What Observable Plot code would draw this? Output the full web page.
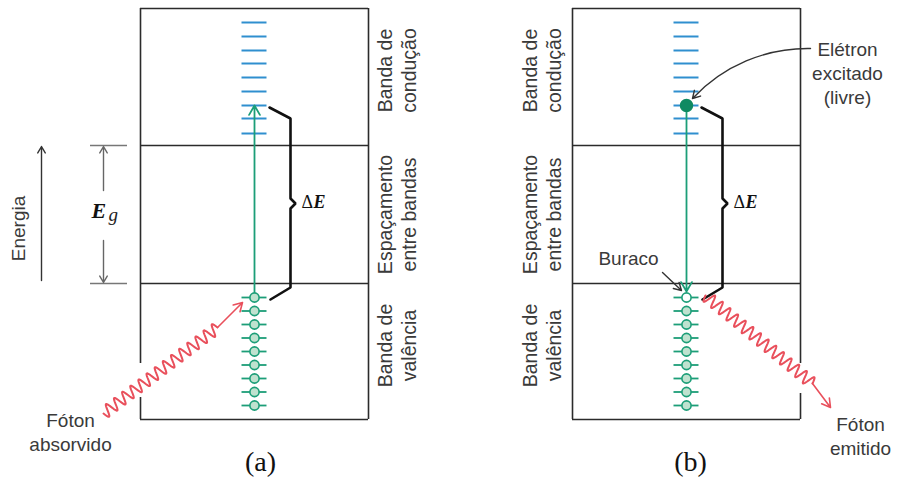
<!DOCTYPE html>
<html>
<head>
<meta charset="utf-8">
<script src="https://cdn.jsdelivr.net/npm/d3@7"></script>
<script src="https://cdn.jsdelivr.net/npm/@observablehq/plot@0.6"></script>
<style>
  html, body { margin: 0; padding: 0; background: #fff; }
  #chart { width: 899px; height: 480px; }
</style>
</head>
<body>
<div id="chart"></div>
<script>
// Band diagram: (a) photon absorption, (b) photon emission.
// x runs across the page, y is energy (upwards).

const panelIds = ["a", "b"];
const panelLeft = [140, 572];
const boxWidth = 228;
const columnX = [254, 686];

// band edges: top of box, bottom of conduction band, top of valence band, bottom of box
const bandEdges = [472, 335, 197, 61];

const conductionLevels = [458, 444, 430, 417, 403, 389, 375, 362, 347];
const valenceLevels = [183, 169.5, 156, 142.5, 129, 115.5, 102, 88.5, 75];
const excitedLevel = 375;
const levelHalfWidth = 12.5;

// vertical box edges, split where the photon passes through
const boxEdges = [
  {x: 140, y1: 472, y2: 117}, {x: 140, y1: 83, y2: 61},
  {x: 368, y1: 472, y2: 61},
  {x: 572, y1: 472, y2: 61},
  {x: 800, y1: 472, y2: 117}, {x: 800, y1: 87, y2: 61}
];

const bandLabels = ["Banda de\ncondução", "Espaçamento\nentre bandas", "Banda de\nvalência"];
const bandLabelY = [410, 266, 135];
const bandLabelX = [396, 541];

// ΔE brace, offsets from the panel's left edge
const braceDx = [129, 150, 150, 155, 150, 150, 130];
const braceY = [373, 362, 282, 277, 272, 193, 181];

// photons: wavy part, then straight arrow
const photonWave = [
  {panel: "a", x1: 103, y1: 67, x2: 217, y2: 153},
  {panel: "b", x1: 705, y1: 185, x2: 812, y2: 97}
];
const photonArrow = [
  {panel: "a", x1: 217, y1: 153, x2: 242, y2: 178},
  {panel: "b", x1: 812, y1: 97, x2: 830, y2: 73}
];

// E_g marker and energy axis on the left
const gapTicks = [335, 197];
const gapArrows = [{y1: 290, y2: 334}, {y1: 240, y2: 198}];

const transitions = [
  {x: 254, y1: 188, y2: 375},
  {x: 686, y1: 369, y2: 189}
];

const notes = [
  {text: "Fóton\nabsorvido", x: 70, y: 49},
  {text: "Fóton\nemitido", x: 860, y: 45},
  {text: "Elétron\nexcitado\n(livre)", x: 847, y: 408},
  {text: "Buraco", x: 628, y: 223}
];
const electronPointer = [{x1: 810, y1: 432, x2: 692, y2: 382}];
const holePointer = [{x1: 662, y1: 208, x2: 681, y2: 190}];
const panelTags = [{text: "(a)", x: 260}, {text: "(b)", x: 690}];

// curve factory that draws a photon squiggle between two points
function photonCurve(wavelength, amplitude) {
  return (context) => {
    let pts = [];
    return {
      areaStart() {}, areaEnd() {},
      lineStart() { pts = []; },
      point(x, y) { pts.push([x, y]); },
      lineEnd() {
        if (pts.length < 2) return;
        const [[x0, y0], [x1, y1]] = pts;
        const dx = x1 - x0, dy = y1 - y0, L = Math.hypot(dx, dy);
        const nx = -dy / L, ny = dx / L;
        const cycles = Math.round(L / wavelength);
        const n = cycles * 16;
        context.moveTo(x0, y0);
        for (let i = 1; i <= n; ++i) {
          const t = i / n;
          const s = Math.sin(2 * Math.PI * cycles * t) * amplitude;
          context.lineTo(x0 + dx * t + nx * s, y0 + dy * t + ny * s);
        }
      }
    };
  };
}

const boxRules = panelLeft.flatMap((left) => bandEdges.map((y) => ({y, x1: left, x2: left + boxWidth})));
const cbRules = columnX.flatMap((x) => conductionLevels.map((y) => ({y, x1: x - levelHalfWidth, x2: x + levelHalfWidth})));
const vbStates = columnX.flatMap((x, i) => valenceLevels.map((y, j) => ({
  x, y, x1: x - levelHalfWidth, x2: x + levelHalfWidth, hole: i === 1 && j === 0
})));
const braces = panelLeft.flatMap((left, p) => braceDx.map((dx, i) => ({panel: panelIds[p], x: left + dx, y: braceY[i]})));
const bandTexts = bandLabelX.flatMap((x) => bandLabels.map((text, i) => ({text, x, y: bandLabelY[i]})));
const waveLine = photonWave.flatMap((d) => [{panel: d.panel, x: d.x1, y: d.y1}, {panel: d.panel, x: d.x2, y: d.y2}]);

const ink = "#2b2b2b";
const textInk = "#3a3a3a";
const sans = "Liberation Sans, Arial, sans-serif";
const serif = "Liberation Serif, Times New Roman, serif";
const blue = "#2f8fcf";
const green = "#1c9e78";
const red = "#e9505c";

const chart = Plot.plot({
  width: 899,
  height: 480,
  margin: 0,
  x: {domain: [0, 899], axis: null},
  y: {domain: [0, 480], axis: null},
  style: {background: "#fff"},
  marks: [
    // boxes
    Plot.ruleY(boxRules, {y: "y", x1: "x1", x2: "x2", stroke: ink, strokeWidth: 1.6}),
    Plot.ruleX(boxEdges, {x: "x", y1: "y1", y2: "y2", stroke: ink, strokeWidth: 1.6}),

    // E_g marker
    Plot.ruleY(gapTicks, {y: (d) => d, x1: 90, x2: 127, stroke: "#777", strokeWidth: 1.5}),
    Plot.arrow(gapArrows, {x1: 103, x2: 103, y1: "y1", y2: "y2", stroke: "#666", strokeWidth: 1.4, headLength: 8}),
    Plot.text(["E"], {x: 91, y: 270, text: (d) => d, textAnchor: "start", fontFamily: serif, fontSize: 22, fontWeight: "bold", fontStyle: "italic", fill: "#111"}),
    Plot.text(["g"], {x: 108, y: 266, text: (d) => d, textAnchor: "start", fontFamily: serif, fontSize: 19, fontStyle: "italic", fill: "#222"}),

    // energy axis
    Plot.arrow([{y1: 200, y2: 334}], {x1: 41, x2: 41, y1: "y1", y2: "y2", stroke: "#333", strokeWidth: 1.4, headLength: 8}),
    Plot.text(["Energia"], {x: 18, y: 252, text: (d) => d, rotate: -90, fontFamily: sans, fontSize: 19, fill: textInk}),

    // conduction band levels
    Plot.ruleY(cbRules, {y: "y", x1: "x1", x2: "x2", stroke: blue, strokeWidth: 2}),

    // valence band states
    Plot.ruleY(vbStates, {y: "y", x1: "x1", x2: "x2", stroke: green, strokeWidth: 1.8}),

    // transitions
    Plot.arrow(transitions, {x1: "x", x2: "x", y1: "y1", y2: "y2", stroke: green, strokeWidth: 1.8, headLength: 9}),
    Plot.dot(vbStates, {x: "x", y: "y", r: 4.6, fill: (d) => d.hole ? "#fff" : "#bfe2cf", stroke: green, strokeWidth: 1.6}),
    Plot.dot([{x: 686, y: excitedLevel}], {x: "x", y: "y", r: 6, fill: "#0f8a62", stroke: "#0f8a62"}),

    // ΔE braces
    Plot.line(braces, {x: "x", y: "y", z: "panel", stroke: "#111", strokeWidth: 2.6, strokeLinejoin: "miter"}),
    Plot.text(["a", "b"], {x: (d, i) => panelLeft[i] + 161, y: 278, text: () => "Δ", textAnchor: "start", fontFamily: serif, fontSize: 18, fill: "#111"}),
    Plot.text(["a", "b"], {x: (d, i) => panelLeft[i] + 173, y: 278, text: () => "E", textAnchor: "start", fontFamily: serif, fontSize: 18, fontWeight: "bold", fontStyle: "italic", fill: "#111"}),

    // photons
    Plot.line(waveLine, {x: "x", y: "y", z: "panel", stroke: red, strokeWidth: 2, curve: photonCurve(10.2, 6)}),
    Plot.arrow(photonArrow, {x1: "x1", y1: "y1", x2: "x2", y2: "y2", stroke: red, strokeWidth: 1.6, headLength: 9}),

    // band labels
    Plot.text(bandTexts, {x: "x", y: "y", text: "text", rotate: -90, lineAnchor: "middle", lineHeight: 1.2, fontFamily: sans, fontSize: 19.5, fill: textInk}),

    // annotations
    Plot.text(notes, {x: "x", y: "y", text: "text", lineAnchor: "middle", lineHeight: 1.25, fontFamily: sans, fontSize: 19, fill: textInk}),
    Plot.arrow(electronPointer, {x1: "x1", y1: "y1", x2: "x2", y2: "y2", bend: -24, stroke: "#333", strokeWidth: 1.4, headLength: 9}),
    Plot.arrow(holePointer, {x1: "x1", y1: "y1", x2: "x2", y2: "y2", stroke: "#333", strokeWidth: 1.4, headLength: 9}),
    Plot.text(panelTags, {x: "x", y: 18, text: "text", fontFamily: serif, fontSize: 28, fill: "#111"})
  ]
});

document.getElementById("chart").appendChild(chart);
</script>
</body>
</html>
